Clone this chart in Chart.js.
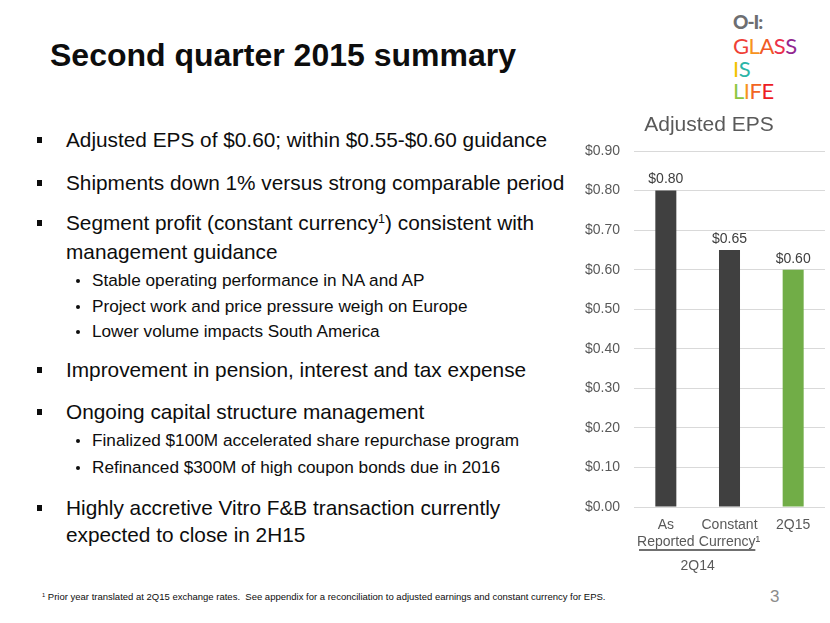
<!DOCTYPE html>
<html>
<head>
<meta charset="utf-8">
<script src="https://cdn.jsdelivr.net/npm/chart.js@4.4.1/dist/chart.umd.min.js"></script>
<style>
  html, body { margin: 0; padding: 0; background: #fff; overflow: hidden; }
  body { width: 830px; height: 623px; position: relative; font-family: "Liberation Sans", Arial, sans-serif; color: #0d0d0d; }
  .abs { position: absolute; white-space: nowrap; }
  h1 { position: absolute; left: 50px; top: 36px; margin: 0; font-size: 32px; line-height: 38px; font-weight: bold; color: #0d0d0d; }
  .main { font-size: 20.8px; line-height: 24px; left: 66px; }
  .sub { font-size: 17.2px; line-height: 22px; left: 92px; }
  .sq { position: absolute; left: 37px; width: 5px; height: 6px; background: #0d0d0d; }
  .dot { position: absolute; left: 76px; width: 4px; height: 4px; border-radius: 2px; background: #0d0d0d; }
  sup { font-size: 60%; line-height: 0; vertical-align: 0.55em; }
  #foot { left: 42px; top: 590px; font-size: 9.5px; line-height: 14px; color: #0d0d0d; }
  #page { left: 770px; top: 587px; font-size: 17px; color: #8c8c8c; }
  #logo { position: absolute; left: 733px; top: 10px; font-family: Lato, "Open Sans", sans-serif; }
  #logo div { position: absolute; left: 0; white-space: nowrap; font-size: 22px; line-height: 22px; letter-spacing: -0.5px; }
  #chartBox { position: absolute; left: 560px; top: 100px; width: 298px; height: 480px; }
</style>
</head>
<body>
<h1>Second quarter 2015 summary</h1>

<div id="logo">
  <div style="top:1px;font-size:19px;font-weight:900;color:#6d6e71;letter-spacing:-1px;">O-I:</div>
  <div style="top:25px;"><span style="color:#ef4136">G</span><span style="color:#f7931e">L</span><span style="color:#f15a24">A</span><span style="color:#ec2f4b">S</span><span style="color:#92278f">S</span></div>
  <div style="top:48px;"><span style="color:#f2c200">I</span><span style="color:#2bb5a8">S</span></div>
  <div style="top:70px;"><span style="color:#8dc63f">L</span><span style="color:#f7931e">I</span><span style="color:#f26522">F</span><span style="color:#ed1c24">E</span></div>
</div>

<div class="sq" style="top:137px"></div>
<div class="abs main" style="top:128px">Adjusted EPS of $0.60; within $0.55-$0.60 guidance</div>
<div class="sq" style="top:180px"></div>
<div class="abs main" style="top:171px">Shipments down 1% versus strong comparable period</div>
<div class="sq" style="top:220px"></div>
<div class="abs main" style="top:211px">Segment profit (constant currency<sup>1</sup>) consistent with</div>
<div class="abs main" style="top:240px">management guidance</div>
<div class="dot" style="top:279px"></div>
<div class="abs sub" style="top:269px">Stable operating performance in NA and AP</div>
<div class="dot" style="top:305px"></div>
<div class="abs sub" style="top:295px">Project work and price pressure weigh on Europe</div>
<div class="dot" style="top:330px"></div>
<div class="abs sub" style="top:320px">Lower volume impacts South America</div>
<div class="sq" style="top:367px"></div>
<div class="abs main" style="top:358px">Improvement in pension, interest and tax expense</div>
<div class="sq" style="top:409px"></div>
<div class="abs main" style="top:400px">Ongoing capital structure management</div>
<div class="dot" style="top:439px"></div>
<div class="abs sub" style="top:429px">Finalized $100M accelerated share repurchase program</div>
<div class="dot" style="top:466px"></div>
<div class="abs sub" style="top:456px">Refinanced $300M of high coupon bonds due in 2016</div>
<div class="sq" style="top:505px"></div>
<div class="abs main" style="top:496px">Highly accretive Vitro F&amp;B transaction currently</div>
<div class="abs main" style="top:523px">expected to close in 2H15</div>

<div class="abs" id="foot"><sup>1</sup> Prior year translated at 2Q15 exchange rates.&nbsp; See appendix for a reconciliation to adjusted earnings and constant currency for EPS.</div>
<div class="abs" id="page">3</div>

<div id="chartBox"><canvas id="epsChart"></canvas></div>

<script>
const chartTitle = 'Adjusted EPS';
const categories = [['As', 'Reported'], ['Constant', 'Currency\u00b9'], '2Q15'];
const epsValues = [0.80, 0.65, 0.60];
const barColors = ['#404040', '#404040', '#71ad47'];
const groupLabel = '2Q14';
const groupRange = [0, 1];
const yMax = 0.9;
const yStep = 0.1;

const money = (v) => '$' + Number(v).toFixed(2);
const FONT = '"Liberation Sans", Arial, sans-serif';

// title centred over the whole canvas, not just the plot
const canvasTitle = {
  id: 'canvasTitle',
  afterDraw(chart) {
    const ctx = chart.ctx;
    ctx.save();
    ctx.font = '21px ' + FONT;
    ctx.fillStyle = '#595959';
    ctx.textAlign = 'center';
    ctx.textBaseline = 'middle';
    ctx.fillText(chartTitle, chart.width / 2, 25);
    ctx.restore();
  }
};

// value labels above each bar
const valueLabels = {
  id: 'valueLabels',
  afterDatasetsDraw(chart) {
    const ctx = chart.ctx;
    const meta = chart.getDatasetMeta(0);
    ctx.save();
    ctx.font = '14px ' + FONT;
    ctx.fillStyle = '#404040';
    ctx.textAlign = 'center';
    ctx.textBaseline = 'bottom';
    meta.data.forEach((bar, i) => {
      ctx.fillText(money(epsValues[i]), bar.x, bar.y - 4);
    });
    ctx.restore();
  }
};

// line under the first two categories with the group name beneath
const groupBracket = {
  id: 'groupBracket',
  afterDraw(chart) {
    const ctx = chart.ctx;
    const x = chart.scales.x;
    const half = x.width / categories.length / 2;
    const x0 = x.getPixelForValue(groupRange[0]) - half + 5;
    const x1 = x.getPixelForValue(groupRange[1]) + half - 6;
    const y = chart.chartArea.bottom + 43;
    ctx.save();
    ctx.strokeStyle = '#404040';
    ctx.lineWidth = 1.5;
    ctx.beginPath();
    ctx.moveTo(x0, y);
    ctx.lineTo(x1, y);
    ctx.stroke();
    ctx.font = '14px ' + FONT;
    ctx.fillStyle = '#595959';
    ctx.textAlign = 'center';
    ctx.textBaseline = 'middle';
    const cx = (x.getPixelForValue(groupRange[0]) + x.getPixelForValue(groupRange[1])) / 2;
    ctx.fillText(groupLabel, cx, y + 16);
    ctx.restore();
  }
};

new Chart(document.getElementById('epsChart'), {
  type: 'bar',
  data: {
    labels: categories,
    datasets: [{
      data: epsValues,
      backgroundColor: barColors,
      barPercentage: 0.33,
      categoryPercentage: 1
    }]
  },
  options: {
    responsive: true,
    maintainAspectRatio: false,
    animation: false,
    layout: { padding: { top: 51, right: 33, bottom: 0 } },
    plugins: {
      legend: { display: false },
      tooltip: { enabled: false },
      title: { display: false }
    },
    scales: {
      y: {
        min: 0,
        max: yMax,
        afterFit(scale) { scale.width = 74; },
        ticks: {
          stepSize: yStep,
          padding: 14,
          color: '#595959',
          font: { family: FONT, size: 14 },
          callback: (v) => money(v)
        },
        grid: { color: '#d9d9d9', drawTicks: false },
        border: { display: false }
      },
      x: {
        afterFit(scale) { scale.height = 73; },
        ticks: {
          autoSkip: false,
          padding: 2,
          color: '#595959',
          font: { family: FONT, size: 14 },
          maxRotation: 0
        },
        grid: { display: false },
        border: { display: false }
      }
    }
  },
  plugins: [canvasTitle, valueLabels, groupBracket]
});
</script>
</body>
</html>
